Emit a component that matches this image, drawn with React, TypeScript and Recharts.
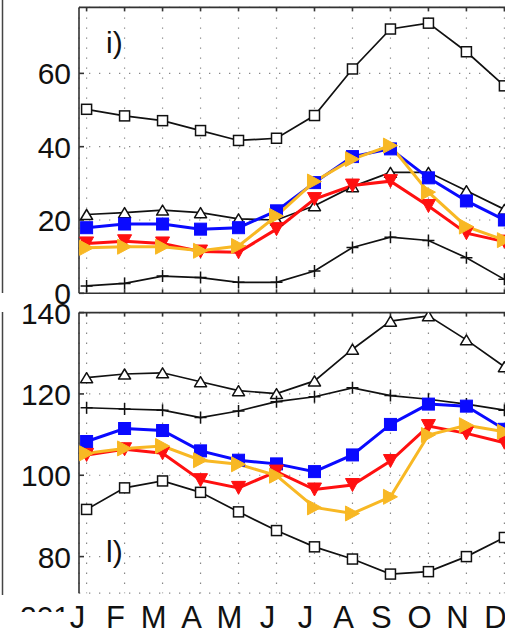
import React from 'react';
import { LineChart, Line, XAxis, YAxis, CartesianGrid } from 'recharts';

const monthLabels = ['J', 'F', 'M', 'A', 'M', 'J', 'J', 'A', 'S', 'O', 'N', 'D'];
const monthIndex = [1, 2, 3, 4, 5, 6, 7, 8, 9, 10, 11, 12];

// panel i)
const iSquares = [50.2, 48.4, 47.1, 44.4, 41.7, 42.3, 48.5, 61.2, 72.1, 73.7, 65.9, 56.6];
const iTriangles = [21.5, 22.0, 22.7, 22.0, 20.3, 20.0, 23.9, 29.1, 33.0, 33.0, 28.0, 22.9];
const iPlus = [2.0, 2.7, 4.7, 4.3, 3.0, 3.0, 6.1, 12.5, 15.3, 14.4, 9.7, 3.8];
const iBlue = [17.9, 18.9, 18.9, 17.5, 17.9, 22.5, 30.2, 37.3, 39.4, 31.5, 25.2, 20.0];
const iRed = [13.6, 14.2, 13.6, 11.4, 11.2, 17.5, 25.7, 29.4, 30.6, 23.8, 16.4, 14.1];
const iOrange = [12.4, 12.7, 12.7, 11.6, 12.9, 21.1, 30.5, 36.6, 40.3, 27.6, 18.2, 14.5];

// panel l)
const lSquares = [91.6, 96.9, 98.6, 95.8, 91.0, 86.4, 82.4, 79.4, 75.7, 76.3, 80.0, 84.7];
const lTriangles = [124.0, 124.9, 125.2, 123.0, 120.8, 120.1, 123.2, 131.0, 137.9, 139.2, 133.3, 126.7];
const lPlus = [116.6, 116.3, 116.0, 114.2, 115.8, 118.1, 119.3, 121.5, 119.6, 118.7, 117.5, 116.0];
const lBlue = [108.3, 111.5, 111.0, 106.0, 103.7, 102.8, 100.9, 105.0, 112.5, 117.5, 117.0, 111.3];
const lRed = [105.0, 106.4, 105.4, 98.8, 96.9, 100.9, 96.5, 97.6, 103.5, 112.1, 110.3, 108.0];
const lOrange = [105.4, 106.6, 107.2, 103.7, 102.7, 99.9, 92.1, 90.6, 94.7, 109.9, 112.3, 110.7];

const iTicks = [0, 20, 40, 60];
const lTicks = [80, 100, 120, 140];

const BLUE = '#0a0aff';
const RED = '#ff1010';
const ORANGE = '#f8b824';
const FONT = '"Liberation Sans", Arial, Helvetica, sans-serif';

const build = (sq: number[], tr: number[], pl: number[], bl: number[], rd: number[], or: number[]) =>
  monthIndex.map((m, i) => ({ m, sq: sq[i], tr: tr[i], pl: pl[i], bl: bl[i], rd: rd[i], or: or[i] }));

const iData = build(iSquares, iTriangles, iPlus, iBlue, iRed, iOrange);
const lData = build(lSquares, lTriangles, lPlus, lBlue, lRed, lOrange);

type Shape = 'square' | 'up' | 'down' | 'right' | 'plus';

// matlab-like marker shapes
const marker = (shape: Shape, w: number, h: number, color: string, filled: boolean) => (props: any) => {
  const { cx, cy, index } = props;
  const key = `mk-${index}`;
  if (cx == null || cy == null) return <g key={key} />;
  const fill = filled ? color : '#fff';
  const sw = filled ? 1 : 1.5;
  if (shape === 'square')
    return <rect key={key} x={cx - w / 2} y={cy - h / 2} width={w} height={h} fill={fill} stroke={color} strokeWidth={sw} />;
  if (shape === 'plus')
    return (
      <path key={key} d={`M${cx - w / 2},${cy}H${cx + w / 2}M${cx},${cy - h / 2}V${cy + h / 2}`} stroke={color} strokeWidth={1.5} />
    );
  let pts = '';
  if (shape === 'up') pts = `${cx},${cy - h / 2} ${cx - w / 2},${cy + h / 2} ${cx + w / 2},${cy + h / 2}`;
  if (shape === 'down') pts = `${cx},${cy + h / 2} ${cx - w / 2},${cy - h / 2} ${cx + w / 2},${cy - h / 2}`;
  if (shape === 'right') pts = `${cx + w / 2},${cy} ${cx - w / 2},${cy - h / 2} ${cx - w / 2},${cy + h / 2}`;
  return <polygon key={key} points={pts} fill={fill} stroke={color} strokeWidth={sw} strokeLinejoin="round" />;
};

const YTick = (p: any) => (
  <text x={p.x} y={p.y + 11} textAnchor="end" fontSize={30} fontFamily={FONT} fill="#111">
    {p.payload.value}
  </text>
);

const MonthTick = (p: any) => (
  <text x={p.x - 9} y={p.y + 22} textAnchor="middle" fontSize={31} fontFamily={FONT} fill="#111">
    {monthLabels[p.payload.value - 1]}
  </text>
);

const NoTick = () => <g />;

const axisStroke = { stroke: '#333', strokeWidth: 1.6 };

const renderLines = () => [
  <Line key="sq" dataKey="sq" stroke="#111" strokeWidth={1.7} dot={marker('square', 10, 10, '#111', false)} isAnimationActive={false} />,
  <Line key="tr" dataKey="tr" stroke="#111" strokeWidth={1.7} dot={marker('up', 12, 10, '#111', false)} isAnimationActive={false} />,
  <Line key="pl" dataKey="pl" stroke="#111" strokeWidth={1.7} dot={marker('plus', 12, 12, '#111', false)} isAnimationActive={false} />,
  <Line key="bl" dataKey="bl" stroke={BLUE} strokeWidth={3} dot={marker('square', 12, 12, BLUE, true)} isAnimationActive={false} />,
  <Line key="rd" dataKey="rd" stroke={RED} strokeWidth={3} dot={marker('down', 14, 13, RED, true)} isAnimationActive={false} />,
  <Line key="or" dataKey="or" stroke={ORANGE} strokeWidth={3} dot={marker('right', 14, 15, ORANGE, true)} isAnimationActive={false} />,
];

const Panel = ({ data, domain, ticks, top, height, margin, showMonths }: any) => (
  <div style={{ position: 'absolute', left: 0, top }}>
    <LineChart width={530} height={height} data={data} margin={margin}>
      <CartesianGrid stroke="#888" strokeWidth={1.2} strokeDasharray="1.3 8.7" />
      <XAxis
        xAxisId={0}
        dataKey="m"
        type="number"
        domain={[0.8, 12.2]}
        ticks={monthIndex}
        interval={0}
        height={1}
        axisLine={showMonths ? false : axisStroke}
        tickLine={showMonths ? false : axisStroke}
        tickSize={showMonths ? 0 : -4}
        tickMargin={13}
        tick={showMonths ? MonthTick : NoTick}
      />
      <XAxis
        xAxisId="top"
        orientation="top"
        dataKey="m"
        type="number"
        domain={[0.8, 12.2]}
        ticks={monthIndex}
        interval={0}
        height={1}
        axisLine={axisStroke}
        tickLine={axisStroke}
        tickSize={-4}
        tick={NoTick}
      />
      <YAxis
        width={79}
        type="number"
        domain={domain}
        ticks={ticks}
        interval={0}
        allowDataOverflow
        axisLine={axisStroke}
        tickLine={axisStroke}
        tickSize={-5}
        tickMargin={13}
        tick={YTick}
      />
      {renderLines()}
    </LineChart>
  </div>
);

export default function App() {
  return (
    <div style={{ position: 'fixed', left: 0, top: 0, width: 505, height: 635, overflow: 'hidden', background: '#fff' }}>
      <Panel data={iData} domain={[0, 78]} ticks={iTicks} top={0} height={320} margin={{ top: 6.4, right: 18, bottom: 25.7, left: 0 }} showMonths={false} />
      <Panel data={lData} domain={[71, 140]} ticks={lTicks} top={300} height={335} margin={{ top: 11.6, right: 18, bottom: 40.8, left: 0 }} showMonths />
      <svg width={505} height={635} style={{ position: 'absolute', left: 0, top: 0, pointerEvents: 'none' }}>
        <defs>
          <clipPath id="cutText">
            <rect x={0} y={604} width={80} height={8} />
          </clipPath>
        </defs>
        {/* edge of the neighbouring panel */}
        <line x1={2.5} y1={0} x2={2.5} y2={293} stroke="#444" strokeWidth={1.5} />
        <line x1={2.5} y1={312} x2={2.5} y2={595} stroke="#444" strokeWidth={1.5} />
        <text x={106} y={53} fontSize={30} fontFamily={FONT} fill="#111">i)</text>
        <text x={106} y={562} fontSize={30} fontFamily={FONT} fill="#111">l)</text>
        <text x={20} y={627} fontSize={30} fontFamily={FONT} fill="#111" clipPath="url(#cutText)">201</text>
      </svg>
    </div>
  );
}
